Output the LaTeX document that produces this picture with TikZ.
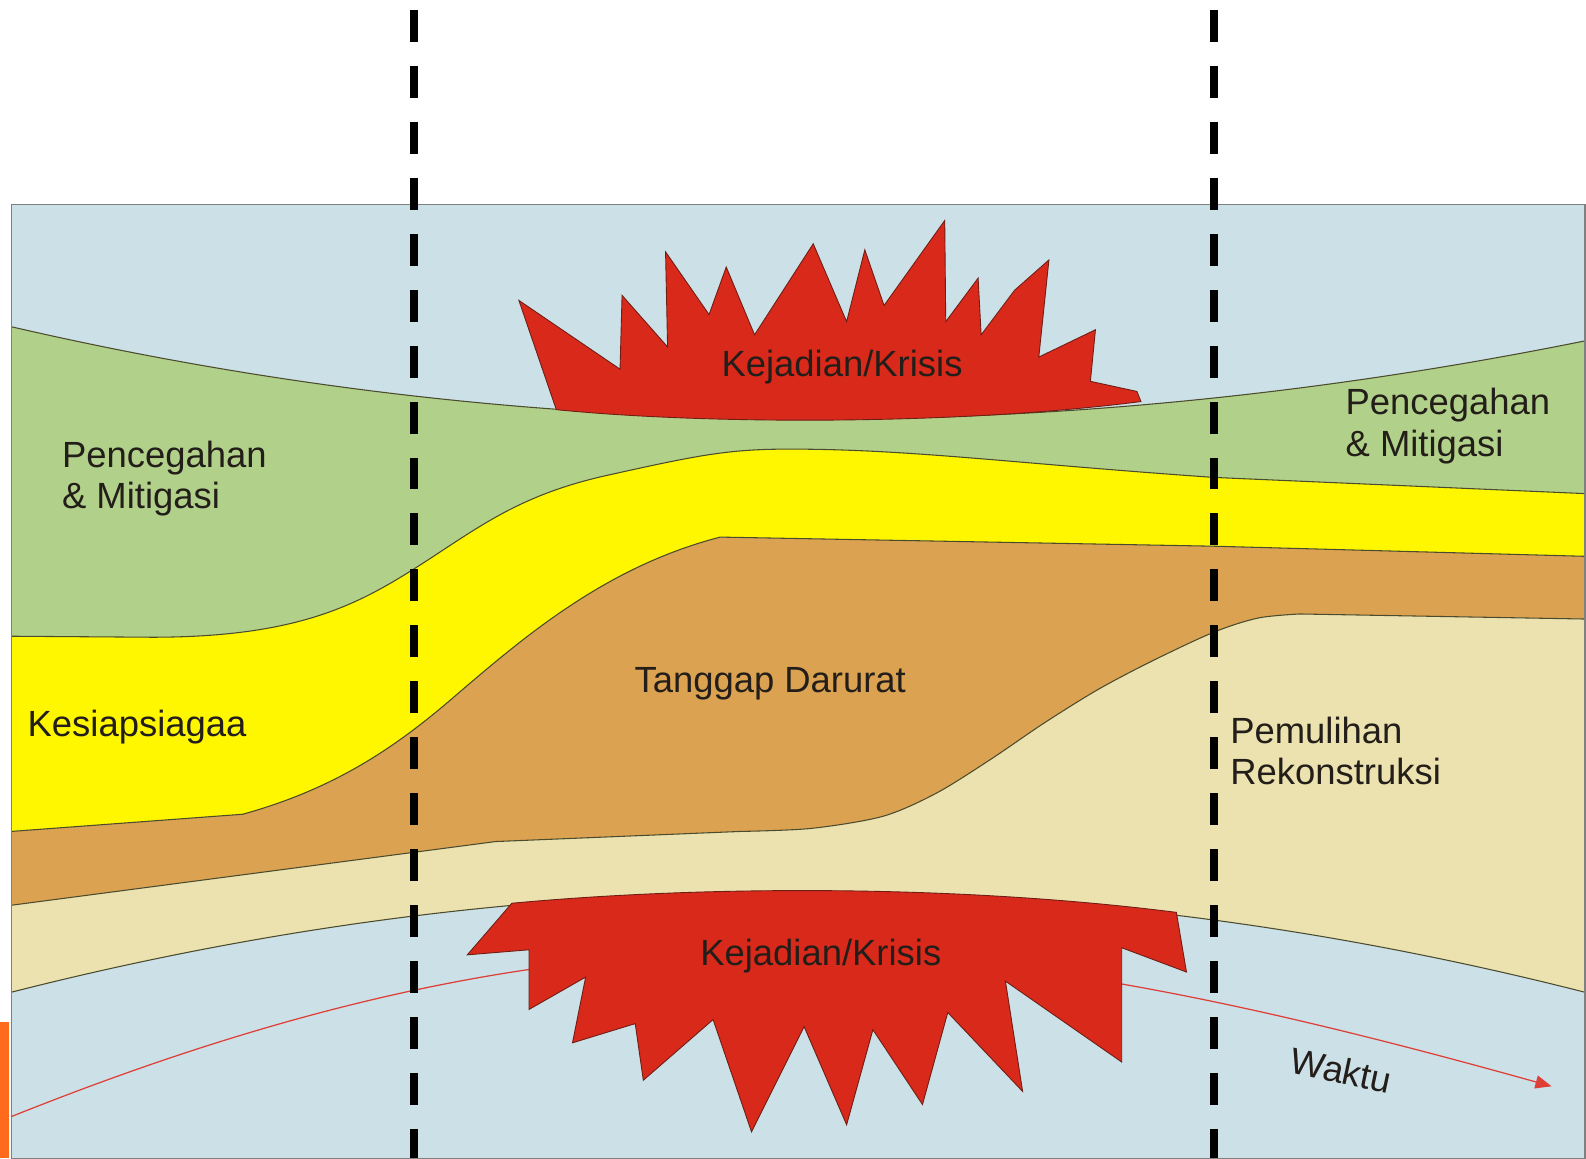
\documentclass[tikz,border=0pt]{standalone}
\usepackage{fontspec}
\setsansfont{Liberation Sans}
\usetikzlibrary{arrows.meta}

\definecolor{skyblue}{RGB}{204,224,231}
\definecolor{leafgreen}{RGB}{177,209,138}
\definecolor{sunyellow}{RGB}{255,247,0}
\definecolor{clayorange}{RGB}{219,162,82}
\definecolor{sandbeige}{RGB}{235,226,176}
\definecolor{burstred}{RGB}{217,41,27}
\definecolor{burstedge}{RGB}{110,30,20}
\definecolor{barorange}{RGB}{255,106,28}
\definecolor{arrowred}{RGB}{222,64,56}
\definecolor{edgeline}{RGB}{75,75,45}
\definecolor{panelgray}{RGB}{128,128,128}
\definecolor{inkdark}{RGB}{35,30,25}

% band boundaries, left to right
\def\greentop{(11,323) .. controls (517,440) and (1037,444) .. (1567,337)}
\def\yellowtop{(11,629) -- (150,630) .. controls (290,630) and (350,600) .. (410,562) .. controls (470,524) and (510,490) .. (600,470) .. controls (690,450) and (720,444) .. (780,444) .. controls (900,444) and (1000,458) .. (1200,472) -- (1567,488)}
\def\browntop{(11,822) -- (240,805) .. controls (330,780) and (390,740) .. (450,688) .. controls (520,628) and (600,560) .. (712,531) -- (1200,540) -- (1567,550)}
\def\beigetop{(11,895) -- (490,832) -- plot[smooth] coordinates {(732,822) (802,819) (873,807) (926,784) (979,751) (1032,715) (1085,682) (1138,654) (1200,625) (1244,611) (1285,607)} -- (1567,612)}
\def\skybottom{(11,981) .. controls (529,849) and (1049,849) .. (1567,981)}

\begin{document}
\begin{tikzpicture}[x=0.02cm, y=-0.02cm,
    lbl/.style={text=inkdark, inner sep=0pt, align=left, font=\fontsize{20.5}{23.4}\selectfont\sffamily},
    band/.style={draw=edgeline, line width=0.6pt},
    burst/.style={fill=burstred, draw=burstedge, line width=0.5pt, line join=miter},
    divider/.style={line width=4.5pt, dash pattern=on 0.632cm off 0.474cm}]

    \useasboundingbox[fill=white] (0,0) rectangle (1568,1145);
    % \draw[help lines] (0,0) grid[step=100] (1568,1145);

    \fill[skyblue] (11,202) rectangle (1567,1145);

    \fill[leafgreen] \greentop -- (1567,1145) -- (11,1145) -- cycle;
    \draw[band] \greentop;

    \fill[sunyellow] \yellowtop -- (1567,1145) -- (11,1145) -- cycle;
    \draw[band] \yellowtop;

    \fill[clayorange] \browntop -- (1567,1145) -- (11,1145) -- cycle;
    \draw[band] \browntop;

    \fill[sandbeige] \beigetop -- (1567,1145) -- (11,1145) -- cycle;
    \draw[band] \beigetop;

    \fill[skyblue] \skybottom -- (1567,1145) -- (11,1145) -- cycle;
    \draw[band] \skybottom;

    \draw[panelgray, line width=0.6pt] (11,202) rectangle (1567,1145);
    \fill[barorange] (0,1010) rectangle (9,1145);

    % time axis
    \coordinate (tStart)  at ( 11, 1104 );
    \coordinate (tEnd)  at ( 1534, 1074 );
    \draw[arrowred, line width=0.7pt, -{Triangle[length=0.32cm, width=0.26cm]}] (tStart) .. controls (590,872) and (954,912) .. (tEnd);

    \draw[burst] (550,405) -- (513,297) -- (613,365) -- (615,292) -- (660,343) -- (658,249) -- (701,311) -- (718,264) -- (746,331) -- (804,241) -- (837,318) -- (855,247) -- (874,302) -- (934,218) -- (935,318) -- (967,275) -- (970,331) -- (1003,287) -- (1037,257) -- (1027,353) -- (1083,326) -- (1078,377) -- (1124,387) -- (1128,397) .. controls (950,420) and (700,420) .. (550,405) -- cycle;

    \draw[burst] (506,893) -- (462,944) -- (523,939) -- (523,998) -- (579,966) -- (566,1031) -- (628,1012) -- (636,1068) -- (705,1008) -- (743,1119) -- (795,1015) -- (837,1112) -- (863,1018) -- (912,1092) -- (937,1001) -- (1011,1079) -- (994,970) -- (1109,1050) -- (1109,937) -- (1173,961) -- (1163,902) .. controls (950,875) and (700,875) .. (506,893) -- cycle;

    % phase dividers
    \coordinate (divLtop)  at ( 409, 10 );
    \coordinate (divLbot)  at ( 409, 1145 );
    \coordinate (divRtop)  at ( 1200, 10 );
    \coordinate (divRbot)  at ( 1200, 1145 );
    \draw[divider] (divLtop) -- (divLbot);
    \draw[divider] (divRtop) -- (divRbot);

    % anchor = baseline of the last line
    \node (prevL)  at ( 61, 503 ) [lbl, anchor=base west] {Pencegahan\\\& Mitigasi};
    \node (prevR)  at ( 1330, 451 ) [lbl, anchor=base west] {Pencegahan\\\& Mitigasi};
    \node (ready)  at ( 27, 728 ) [lbl, anchor=base west] {Kesiapsiagaa};
    \node (resp)  at ( 627, 685 ) [lbl, anchor=base west] {Tanggap Darurat};
    \node (recov)  at ( 1216, 776 ) [lbl, anchor=base west] {Pemulihan\\Rekonstruksi};
    \node (crisisT)  at ( 713, 372 ) [lbl, anchor=base west] {Kejadian/Krisis};
    \node (crisisB)  at ( 692, 955 ) [lbl, anchor=base west] {Kejadian/Krisis};
    \node (time)  at ( 1326, 1058 ) [lbl, rotate=-12] {Waktu};

\end{tikzpicture}
\end{document}
